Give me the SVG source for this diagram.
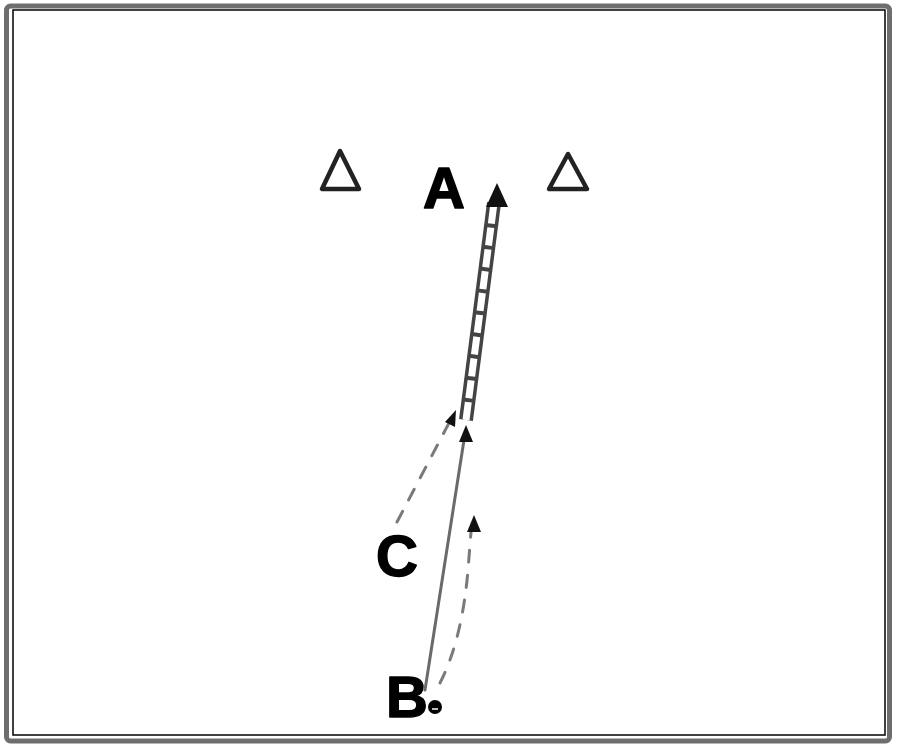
<svg xmlns="http://www.w3.org/2000/svg" width="900" height="750" viewBox="0 0 900 750">
<style>
.lbl{font-family:"Liberation Sans",Arial,sans-serif;font-weight:bold;font-size:58px;fill:#000;stroke:#000;stroke-width:1.5;stroke-linejoin:round}
.cone{fill:none;stroke:#222;stroke-width:4.5;stroke-linejoin:round}
.run{fill:none;stroke:#6a6a6a;stroke-width:3;stroke-linecap:round}
.dash{fill:none;stroke:#7a7a7a;stroke-width:3;stroke-dasharray:12 13;stroke-linecap:round}
.head{fill:#111}
</style>
<rect width="900" height="750" fill="#fff"/>
<g id="frame">
<rect x="6.5" y="6" width="883" height="735" rx="4" fill="none" stroke="#6e6e6e" stroke-width="5"/>
<rect x="13" y="10" width="872" height="725" fill="none" stroke="#000" stroke-width="1.5"/>
</g>
<g id="cone-left"><polygon class="cone" points="340,151 322,189 359,189"/></g>
<g id="cone-right"><polygon class="cone" points="568,154 549,189 587,189"/></g>
<g id="label-A"><text class="lbl" x="423" y="208">A</text></g>
<g id="label-C"><text class="lbl" x="376" y="576">C</text></g>
<g id="label-B"><text class="lbl" x="386" y="717">B</text></g>
<g id="ball">
<circle cx="435" cy="707" r="7" fill="#000"/>
<path d="M432,709 h6" stroke="#fff" stroke-width="1.5"/>
</g>
<g id="connectors">
<line x1="466" y1="420" x2="494" y2="203" stroke="#444" stroke-width="14"/>
<line x1="466" y1="420" x2="494" y2="203" stroke="#fff" stroke-width="7" stroke-dasharray="18 4"/>
<polygon class="head" points="497,183 486,207 508,207"/>
<line class="run" x1="425" y1="690" x2="464" y2="440"/>
<polygon class="head" points="466,425 459,442 473,442"/>
<line class="dash" x1="397" y1="522" x2="450" y2="421"/>
<polygon class="head" points="456,410 445,422 455,427"/>
<path class="dash" d="M440,683 Q462,640 468,570 L471,532"/>
<polygon class="head" points="474,515 467,532 481,532"/>
</g>
</svg>
